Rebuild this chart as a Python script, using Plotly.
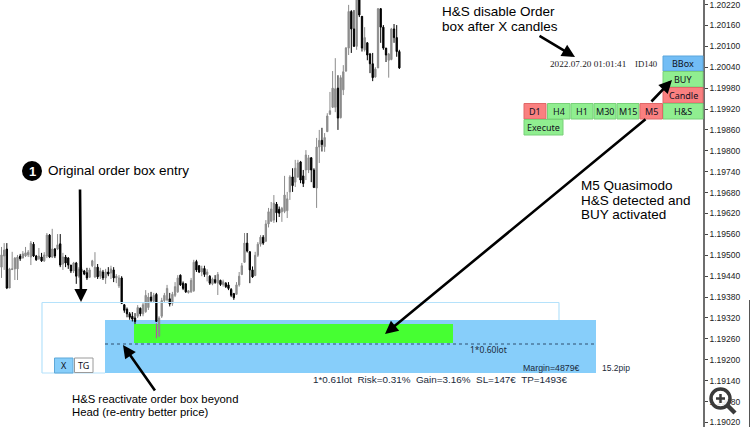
import plotly.graph_objects as go

# prices are kept as points above 1.19000
opens = [466, 498, 518, 406, 459, 461, 461, 498, 492, 498,
         501, 495, 532, 498, 490, 495, 484, 498, 558, 495,
         518, 518, 533, 475, 495, 492, 472, 455, 478, 440,
         452, 455, 450, 437, 470, 438, 466, 440, 452, 435,
         452, 449, 458, 435, 412, 435, 358, 345, 332, 325,
         320, 325, 348, 332, 338, 350, 380, 368, 388, 268,
         325, 370, 372, 375, 362, 385, 395, 443, 420, 418,
         393, 395, 398, 482, 470, 452, 462, 445, 440, 418,
         430, 420, 428, 416, 420, 415, 402, 390, 388, 415,
         445, 480, 535, 510, 458, 442, 500, 532, 552, 540,
         590, 598, 601, 647, 632, 625, 626, 628, 682, 725,
         710, 725, 768, 728, 745, 745, 780, 745, 693, 811,
         830, 812, 855, 905, 925, 925, 980, 895, 975, 1029,
         1095, 1200, 1150, 1100, 1235, 1186, 1090, 1110, 1078, 1050,
         1012, 1038, 1208, 1155, 1095, 1060, 1062, 1150, 1125, 1085]
highs = [524, 535, 535, 464, 510, 495, 501, 504, 512, 524,
         515, 541, 538, 501, 521, 507, 509, 564, 561, 576,
         521, 561, 561, 507, 501, 495, 472, 481, 481, 466,
         466, 458, 464, 464, 487, 509, 475, 464, 458, 461,
         466, 470, 466, 446, 443, 440, 360, 350, 337, 337,
         334, 357, 350, 365, 400, 392, 395, 392, 392, 325,
         378, 392, 415, 392, 395, 423, 443, 445, 425, 420,
         400, 435, 487, 487, 472, 470, 470, 460, 443, 436,
         443, 452, 430, 430, 423, 423, 406, 392, 423, 452,
         478, 564, 564, 512, 468, 510, 538, 558, 558, 601,
         636, 653, 673, 653, 640, 639, 728, 682, 730, 750,
         774, 774, 771, 745, 802, 788, 782, 750, 837, 860,
         866, 851, 908, 969, 1029, 1066, 1017, 1017, 1046, 1098,
         1219, 1204, 1204, 1240, 1240, 1187, 1155, 1112, 1081, 1081,
         1040, 1210, 1210, 1161, 1095, 1081, 1153, 1164, 1161, 1090]
lows = [435, 458, 403, 406, 458, 429, 429, 484, 492, 495,
        495, 472, 495, 484, 487, 481, 481, 492, 492, 492,
        492, 515, 466, 458, 466, 461, 449, 449, 418, 435,
        443, 443, 429, 435, 466, 435, 432, 432, 429, 418,
        440, 432, 423, 420, 406, 360, 335, 322, 315, 310,
        303, 320, 325, 325, 335, 343, 365, 363, 310, 265,
        320, 365, 368, 353, 355, 380, 392, 412, 400, 392,
        390, 392, 395, 452, 449, 440, 438, 425, 415, 414,
        418, 386, 412, 410, 406, 400, 380, 372, 386, 410,
        443, 478, 508, 420, 435, 440, 495, 525, 530, 540,
        580, 596, 593, 595, 610, 596, 621, 607, 659, 682,
        696, 722, 707, 696, 716, 736, 710, 693, 636, 765,
        798, 797, 854, 903, 923, 911, 860, 893, 960, 1027,
        1075, 1081, 1098, 1090, 1184, 1085, 1085, 1060, 1023, 1000,
        1010, 1038, 1110, 1090, 1055, 1010, 1060, 1110, 1070, 1035]
closes = [501, 515, 406, 461, 461, 492, 495, 490, 504, 507,
          509, 535, 498, 487, 498, 484, 501, 558, 495, 518,
          498, 530, 472, 495, 478, 472, 455, 478, 440, 460,
          460, 446, 435, 458, 484, 466, 438, 455, 435, 452,
          446, 461, 435, 440, 435, 362, 342, 332, 322, 317,
          310, 350, 332, 358, 385, 380, 370, 385, 310, 320,
          370, 385, 405, 360, 388, 410, 435, 415, 405, 395,
          398, 428, 480, 458, 452, 462, 445, 452, 420, 432,
          422, 445, 416, 424, 410, 405, 385, 378, 415, 440,
          470, 535, 512, 458, 438, 500, 532, 552, 535, 590,
          625, 633, 650, 622, 621, 635, 673, 662, 725, 700,
          750, 765, 716, 706, 788, 780, 745, 695, 811, 830,
          818, 838, 900, 915, 980, 978, 894, 1010, 1027, 1095,
          1200, 1150, 1100, 1235, 1190, 1095, 1125, 1075, 1050, 1010,
          1035, 1208, 1155, 1095, 1075, 1078, 1150, 1125, 1085, 1038]

# wick of the spike candle where it crosses the green box
pink_index = [58, 58]
pink_points = [305, 262]

tick_labels = ["1.19020", "1.19080", "1.19140", "1.19200", "1.19260", "1.19320", "1.19380",
               "1.19440", "1.19500", "1.19560", "1.19620", "1.19680", "1.19740", "1.19800",
               "1.19860", "1.19920", "1.19980", "1.20040", "1.20100", "1.20160", "1.20220"]

BASE = 1.19
POINT = 0.00001


def price(values):
    return [round(BASE + v * POINT, 5) for v in values]


W_PLOT = 703.0
H_PLOT = 427.0


# the whole page is one screenshot, so overlays are placed by pixel
def px(x):
    return x / W_PLOT


def py(y):
    return 1 - y / H_PLOT


candle_index = list(range(len(opens)))

fig = go.Figure()

fig.add_trace(go.Candlestick(x=candle_index,
                             open=price(opens), high=price(highs),
                             low=price(lows), close=price(closes),
                             increasing=dict(line=dict(color='#8c8c8c', width=1), fillcolor='#8c8c8c'),
                             decreasing=dict(line=dict(color='#000000', width=1), fillcolor='#000000'),
                             whiskerwidth=0,
                             hoverinfo='skip'))

fig.add_trace(go.Scatter(x=pink_index, y=price(pink_points), mode='lines',
                         line=dict(color='#c040b0', width=1), hoverinfo='skip'))

shapes = []


def box(x0, y0, x1, y1, fill, line_color=None, line_width=0, layer='below', dash=None):
    shapes.append(dict(type='rect', xref='paper', yref='paper',
                       x0=px(x0), x1=px(x1), y0=py(y0), y1=py(y1),
                       fillcolor=fill, layer=layer,
                       line=dict(color=line_color or fill, width=line_width, dash=dash)))


def seg(x0, y0, x1, y1, color, width, dash=None, layer='above'):
    shapes.append(dict(type='line', xref='paper', yref='paper',
                       x0=px(x0), x1=px(x1), y0=py(y0), y1=py(y1), layer=layer,
                       line=dict(color=color, width=width, dash=dash)))


# order boxes
box(105, 320, 596, 373, '#87cefa')
box(134, 324, 453, 343, '#46ff32')
seg(105, 344, 596, 344, '#2f4f6f', 1, dash='dot')
# outline only shows above the blue box
seg(42, 302.5, 559, 302.5, '#b5e2fb', 1.2)
seg(42, 302.5, 42, 373, '#b5e2fb', 1.2)
seg(559, 302.5, 559, 320, '#b5e2fb', 1.2)
seg(42, 373, 105, 373, '#b5e2fb', 1.2)

GREEN = '#90ee90'
RED = '#fa8080'
BLUE = '#72bdf5'

buttons = [("BBox", 663, 56, 703, 71, BLUE, '#5aa6dc'),
           ("BUY", 663, 71.5, 703, 87, GREEN, '#78d078'),
           ("Candle", 663, 87.5, 703, 103, RED, '#e06868'),
           ("H&S", 663, 103.5, 703, 119, GREEN, '#78d078'),
           ("D1", 524, 103.5, 546, 119, RED, '#e06868'),
           ("H4", 547.5, 103.5, 570, 119, GREEN, '#78d078'),
           ("H1", 571, 103.5, 593, 119, GREEN, '#78d078'),
           ("M30", 594, 103.5, 616, 119, GREEN, '#78d078'),
           ("M15", 617, 103.5, 639, 119, GREEN, '#78d078'),
           ("M5", 640, 103.5, 662.5, 119, RED, '#e06868'),
           ("Execute", 524, 119.5, 563, 135, GREEN, '#78d078'),
           ("X", 54.5, 358, 73, 373, '#87cefa', '#5ea8d8'),
           ("TG", 74.5, 358, 93, 372.5, '#ffffff', '#9a9a9a')]

annotations = []


def label(text, x, y, size, family='Liberation Sans', color='#000000', anchor='left'):
    # annotation padding pushes left aligned text 2px right
    if anchor == 'left':
        x = x - 2
    annotations.append(dict(text=text, xref='paper', yref='paper', x=px(x), y=py(y),
                            xanchor=anchor, yanchor='middle', showarrow=False,
                            font=dict(family=family, size=size, color=color)))


def arrow(x0, y0, x1, y1):
    annotations.append(dict(text='', xref='paper', yref='paper', x=px(x1), y=py(y1),
                            ax=x0 - x1, ay=y0 - y1, showarrow=True,
                            arrowhead=2, arrowsize=1, arrowwidth=2.6, arrowcolor='#000000'))


for name, x0, y0, x1, y1, fill, edge in buttons:
    box(x0, y0, x1, y1, fill, edge, 1, layer='above')
    label(name, (x0 + x1) / 2, (y0 + y1) / 2, 9, family='Noto Sans', color='#101020', anchor='center')

arrow(80, 188, 81, 302)
arrow(538, 35, 575, 57)
arrow(650, 103, 672, 80)
arrow(647, 118, 385, 334)
arrow(156, 392, 123, 345)

# numbered bullet
shapes.append(dict(type='circle', xref='paper', yref='paper',
                   x0=px(22), x1=px(42), y0=py(161), y1=py(181),
                   fillcolor='#000000', line=dict(color='#000000', width=0), layer='above'))
annotations.append(dict(text='<b>1</b>', xref='paper', yref='paper', x=px(32), y=py(171),
                        xanchor='center', yanchor='middle', showarrow=False,
                        font=dict(family='Liberation Sans', size=13, color='#ffffff')))

label("Original order box entry", 48, 170.5, 13.5)
label("H&S disable Order", 442, 11, 13.5)
label("box after X candles", 442, 27, 13.5)
label("M5 Quasimodo", 581, 185, 13.5)
label("H&S detected and", 581, 200.5, 13.5)
label("BUY activated", 581, 214.5, 13.5)
label("H&S reactivate order box beyond", 72, 399, 11.3)
label("Head (re-entry better price)", 72, 412, 11.3)
label("2022.07.20 01:01:41", 549.5, 64, 9.2, family='Liberation Serif', color='#202020')
label("ID140", 634.5, 64, 8.7, family='Liberation Serif', color='#202020')
label("1*0.60lot", 470, 349, 8.5, family='Noto Sans', color='#1a2a3a')
label("Margin=4879€", 523, 367.5, 8.8, color='#1a2a3a')
label("15.2pip", 601.5, 367.5, 8.5, color='#1a2a3a')
label("1*0.61lot  Risk=0.31%  Gain=3.16%  SL=147€  TP=1493€", 313, 379.5, 9.9, color='#1a2a3a')

# zoom icon of the site, over the axis labels
shapes.append(dict(type='circle', xref='paper', yref='paper',
                   x0=px(711), x1=px(730), y0=py(389), y1=py(408),
                   fillcolor='rgba(255,255,255,0.85)', line=dict(color='#3a3a3a', width=3.5), layer='above'))
seg(727, 405, 735, 413, '#3a3a3a', 4.5)
seg(716, 398.5, 725, 398.5, '#3a3a3a', 2.5)
seg(720.5, 394, 720.5, 403, '#3a3a3a', 2.5)
seg(749.5, 300, 749.5, 427, '#555555', 1)

fig.update_layout(
    width=750, height=427,
    margin=dict(l=0, r=47, t=0, b=0),
    paper_bgcolor='white', plot_bgcolor='white',
    showlegend=False,
    shapes=shapes, annotations=annotations,
    xaxis=dict(visible=False, rangeslider=dict(visible=False), range=[-0.56, 262.7]),
    yaxis=dict(side='right', range=[1.19007, 1.20233], showgrid=False, zeroline=False,
               tickmode='array', tickvals=[float(t) for t in tick_labels], ticktext=tick_labels,
               showline=True, linecolor='#6e6e6e', linewidth=1.5,
               ticks='outside', ticklen=3, tickcolor='#444444', ticklabeloverflow='allow',
               tickfont=dict(family='Liberation Sans', size=8.5, color='#222222')),
)

# browser default body margin would push the chart 8px off
fig.write_html("out.html", config=dict(displayModeBar=False),
               post_script="document.body.style.margin='0';document.body.style.overflow='hidden';")
